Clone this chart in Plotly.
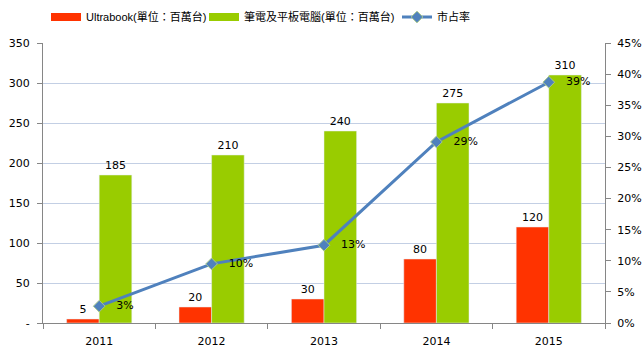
import plotly.graph_objects as go

years = ["2011", "2012", "2013", "2014", "2015"]
ultrabook = [5, 20, 30, 80, 120]
notebook_tablet = [185, 210, 240, 275, 310]
share = [0.027, 0.095, 0.125, 0.291, 0.387]
share_labels = ["3%", "10%", "13%", "29%", "39%"]

names = ["Ultrabook(單位：百萬台)", "筆電及平板電腦(單位：百萬台)", "市占率"]
colors = ["#ff3300", "#99cc00", "#4f81bd"]

tick_font = dict(family="DejaVu Sans, sans-serif", size=11, color="#000")
label_font = dict(family="DejaVu Sans, sans-serif", size=11, color="#000")
nb = "\u00a0"

fig = go.Figure()
fig.add_trace(go.Bar(
    x=years, y=ultrabook, name=names[0], legendgroup="a", showlegend=False,
    marker_color=colors[0], text=[str(v) for v in ultrabook],
    textposition="outside", textfont=label_font, cliponaxis=False,
))
fig.add_trace(go.Bar(
    x=years, y=notebook_tablet, name=names[1], legendgroup="b", showlegend=False,
    marker_color=colors[1], text=[str(v) for v in notebook_tablet],
    textposition="outside", textfont=label_font, cliponaxis=False,
))
fig.add_trace(go.Scatter(
    x=years, y=share, name=names[2], yaxis="y2", legendgroup="c", showlegend=False,
    mode="lines+markers+text",
    line=dict(color=colors[2], width=3),
    marker=dict(symbol="diamond", size=9, color=colors[2],
                line=dict(color="#a9c98a", width=1)),
    text=[nb * 3 + t for t in share_labels], textposition="middle right",
    textfont=label_font, cliponaxis=False,
))

# legend entries (rectangular swatches like the original), one legend each
legend_ids = ["legend", "legend2", "legend3"]
for i, (nm, col) in enumerate(zip(names, colors)):
    if i < 2:
        fig.add_trace(go.Scatter(x=[None], y=[None], mode="lines", name=nm,
                                 legend=legend_ids[i], legendgroup="ab"[i],
                                 line=dict(color=col, width=8)))
    else:
        fig.add_trace(go.Scatter(x=[None], y=[None], yaxis="y2", mode="lines+markers",
                                 name=nm, legend=legend_ids[i], legendgroup="c",
                                 line=dict(color=col, width=3),
                                 marker=dict(symbol="diamond", size=9, color=col,
                                             line=dict(color="#a9c98a", width=1))))

leg_font = dict(family="Liberation Sans, Noto Sans CJK TC, sans-serif", size=11, color="#000")
plot_l, plot_w = 43, 562


def leg(px):
    return dict(orientation="h", xref="paper", x=(px - plot_l) / plot_w, xanchor="left",
                yref="container", y=1 - 17 / 351, yanchor="middle",
                font=leg_font, bgcolor="rgba(0,0,0,0)")


fig.update_layout(
    width=644, height=351,
    margin=dict(l=43, r=39, t=43, b=28, autoexpand=False),
    paper_bgcolor="white", plot_bgcolor="white",
    font=dict(family="Noto Sans CJK TC, sans-serif", size=12, color="#000"),
    barmode="group", bargap=0.42, bargroupgap=0,
    showlegend=True,
    legend=leg(46), legend2=leg(204), legend3=leg(397),
    xaxis=dict(showline=True, linecolor="#868686", linewidth=1,
               ticks="outside", ticklen=5, tickcolor="#868686", tickson="boundaries",
               ticklabelstandoff=8,
               showgrid=False, tickfont=tick_font),
    yaxis=dict(range=[0, 350], showline=True, linecolor="#868686",
               ticks="outside", ticklen=5, tickcolor="#868686",
               gridcolor="#c3cfe4", zeroline=False, ticklabelstandoff=5,
               tickvals=[0, 50, 100, 150, 200, 250, 300, 350],
               ticktext=["-", "50", "100", "150", "200", "250", "300", "350"],
               tickfont=tick_font),
    yaxis2=dict(range=[0, 0.45], dtick=0.05, tickformat=".0%", overlaying="y",
                side="right", showline=True, linecolor="#868686",
                ticks="outside", ticklen=5, tickcolor="#868686", ticklabelstandoff=4,
                showgrid=False, zeroline=False, tickfont=tick_font),
)

fig.write_html("out.html")
